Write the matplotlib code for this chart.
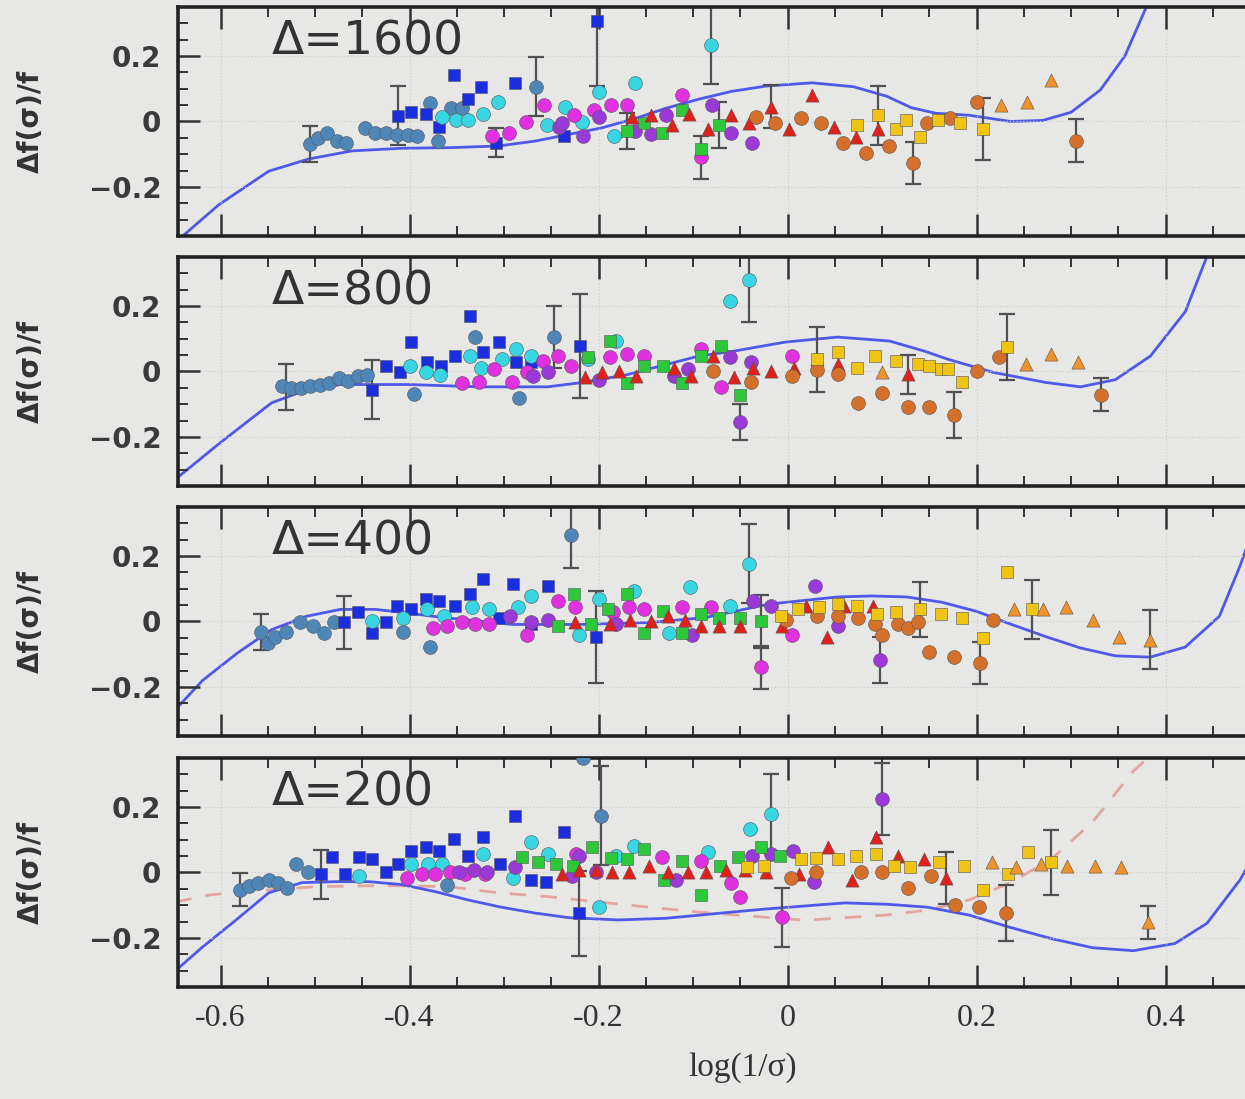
import matplotlib as mpl
mpl.use('Agg')
import matplotlib.pyplot as plt
from matplotlib.ticker import MultipleLocator

mpl.rcParams.update({'font.family': 'DejaVu Sans'})

# ---------- data: (x, y) per series, per panel ----------
P1600_STEEL = [(-0.505,-0.07),(-0.497,-0.05),(-0.487,-0.035),(-0.477,-0.06),(-0.467,-0.065),(-0.447,-0.02),
               (-0.437,-0.035),(-0.425,-0.035),(-0.413,-0.04),(-0.402,-0.04),(-0.392,-0.045),(-0.37,-0.06),
               (-0.378,0.055),(-0.356,0.04),(-0.345,0.04),(-0.266,0.106)]
P1600_BLUE = [(-0.412,0.018),(-0.398,0.028),(-0.383,0.024),(-0.369,-0.018),(-0.353,0.143),(-0.338,0.07),
              (-0.324,0.105),(-0.308,-0.065),(-0.288,0.117),(-0.237,-0.043),(-0.202,0.307)]
P1600_CYAN = [(-0.366,0.013),(-0.351,0.003),(-0.338,0.003),(-0.322,0.024),(-0.306,0.06),(-0.255,-0.012),
              (-0.235,0.045),(-0.218,-0.002),(-0.2,0.09),(-0.184,-0.043),(-0.161,0.117),(-0.081,0.235)]
P1600_MAG = [(-0.313,-0.043),(-0.295,-0.034),(-0.277,-0.003),(-0.258,0.05),(-0.226,0.02),(-0.205,0.034),
             (-0.187,0.05),(-0.17,0.05),(-0.112,0.08),(-0.092,-0.11)]
P1600_PURP = [(-0.242,-0.018),(-0.239,-0.006),(-0.216,-0.043),(-0.2,0.013),(-0.161,-0.028),(-0.144,-0.037),
              (-0.129,0.019),(-0.08,0.05),(-0.06,-0.034),(-0.038,-0.065)]
P1600_GREEN = [(-0.17,-0.028),(-0.152,-0.006),(-0.133,-0.034),(-0.112,0.034),(-0.092,-0.084),(-0.073,-0.012)]
P1600_RED = [(-0.165,0.013),(-0.144,0.019),(-0.122,-0.012),(-0.104,0.024),(-0.084,-0.022),(-0.06,0.019),
             (-0.041,-0.006),(-0.017,0.045),(0.002,-0.022),(0.026,0.08),(0.049,-0.018),(0.072,-0.049),(0.096,-0.022)]
P1600_ORANGE = [(-0.033,0.013),(-0.013,-0.006),(0.014,0.009),(0.035,-0.006),(0.059,-0.065),(0.083,-0.096),
                (0.107,-0.075),(0.133,-0.127),(0.148,-0.006),(0.172,0.009),(0.2,0.06),(0.305,-0.059)]
P1600_YELLOW = [(0.074,-0.012),(0.096,0.019),(0.115,-0.022),(0.125,0.003),(0.14,-0.049),(0.159,0.003),
                (0.183,-0.006),(0.207,-0.022)]
P1600_TRI = [(0.226,0.05),(0.253,0.06),(0.279,0.127)]
P1600_ERR = [(-0.505,-0.07,0.055),(-0.412,0.018,0.09),(-0.308,-0.065,0.045),(-0.266,0.106,0.09),
             (-0.202,0.307,0.2),(-0.17,-0.028,0.055),(-0.092,-0.11,0.065),(-0.081,0.235,0.12),
             (-0.073,-0.012,0.07),(-0.017,0.045,0.065),(0.096,0.019,0.09),(0.133,-0.127,0.065),
             (0.207,-0.022,0.095),(0.305,-0.059,0.065)]
P1600_CURVE = [(-0.648,-0.37),(-0.602,-0.255),(-0.549,-0.152),(-0.507,-0.115),(-0.461,-0.09),(-0.408,-0.082),
               (-0.356,-0.08),(-0.306,-0.075),(-0.267,-0.06),(-0.232,-0.04),(-0.197,-0.02),(-0.16,0.01),
               (-0.129,0.04),(-0.094,0.068),(-0.059,0.092),(-0.023,0.108),(0.026,0.118),(0.07,0.106),
               (0.105,0.077),(0.131,0.042),(0.157,0.025),(0.192,0.019),(0.236,0.0),(0.27,0.003),(0.3,0.028),
               (0.331,0.096),(0.357,0.2),(0.379,0.345),(0.385,0.4)]

P800_STEEL = [(-0.535,-0.045),(-0.525,-0.05),(-0.515,-0.05),(-0.505,-0.045),(-0.495,-0.04),(-0.485,-0.035),
              (-0.475,-0.02),(-0.465,-0.03),(-0.455,-0.015),(-0.445,-0.01),(-0.395,-0.07),(-0.331,0.105),
              (-0.284,-0.08),(-0.247,0.105)]
P800_BLUE = [(-0.44,-0.056),(-0.425,0.016),(-0.41,-0.003),(-0.398,0.09),(-0.382,0.028),(-0.367,0.016),
             (-0.352,0.047),(-0.336,0.168),(-0.322,0.059),(-0.305,0.09),(-0.287,0.028),(-0.271,0.028),(-0.22,0.078)]
P800_CYAN = [(-0.4,0.016),(-0.383,-0.003),(-0.368,-0.012),(-0.336,0.047),(-0.324,0.012),(-0.302,0.037),
             (-0.287,0.068),(-0.271,0.047),(-0.211,0.037),(-0.181,0.093),(-0.061,0.214),(-0.041,0.28)]
P800_MAG = [(-0.344,-0.034),(-0.327,-0.031),(-0.311,0.006),(-0.292,-0.031),(-0.276,-0.003),(-0.259,0.031),
            (-0.243,0.047),(-0.229,0.016),(-0.188,0.043),(-0.17,0.053),(-0.152,0.047),(-0.092,0.068),
            (-0.07,-0.049),(0.005,0.047)]
P800_PURP = [(-0.269,-0.015),(-0.253,-0.003),(-0.2,-0.025),(-0.12,-0.015),(-0.105,0.006),(-0.061,0.043),
             (-0.039,0.028),(-0.05,-0.155)]
P800_GREEN = [(-0.211,0.043),(-0.188,0.093),(-0.17,-0.034),(-0.152,0.016),(-0.132,0.016),(-0.112,-0.034),
              (-0.092,0.047),(-0.07,0.078),(-0.05,-0.071)]
P800_RED = [(-0.214,-0.018),(-0.196,-0.003),(-0.178,0.0),(-0.16,-0.015),(-0.12,0.012),(-0.102,-0.015),
            (-0.079,0.047),(-0.057,-0.018),(-0.037,0.012),(-0.017,0.0),(0.007,0.012),(0.031,0.037),
            (0.053,0.022),(0.127,-0.009)]
P800_ORANGE = [(-0.079,0.0),(-0.039,-0.031),(0.005,-0.015),(0.031,0.005),(0.053,-0.009),(0.075,-0.096),
               (0.1,-0.065),(0.127,-0.109),(0.15,-0.109),(0.176,-0.134),(0.2,0.0),(0.224,0.043),(0.332,-0.071)]
P800_YELLOW = [(0.031,0.037),(0.053,0.059),(0.073,0.012),(0.093,0.047),(0.115,0.031),(0.138,0.022),
               (0.15,0.016),(0.162,0.006),(0.17,0.006),(0.185,-0.031),(0.232,0.075)]
P800_TRI = [(0.1,-0.003),(0.252,0.022),(0.279,0.053),(0.307,0.028)]
P800_ERR = [(-0.531,-0.047,0.07),(-0.44,-0.056,0.09),(-0.247,0.105,0.095),(-0.22,0.078,0.16),
            (-0.041,0.28,0.13),(-0.05,-0.155,0.055),(0.031,0.037,0.1),(0.127,-0.009,0.06),
            (0.176,-0.134,0.07),(0.232,0.075,0.1),(0.332,-0.071,0.05)]
P800_CURVE = [(-0.648,-0.33),(-0.6,-0.217),(-0.546,-0.096),(-0.509,-0.056),(-0.473,-0.04),(-0.4,-0.04),
              (-0.327,-0.047),(-0.254,-0.047),(-0.218,-0.034),(-0.17,-0.01),(-0.13,0.02),(-0.094,0.047),
              (-0.057,0.062),(-0.002,0.09),(0.053,0.105),(0.108,0.093),(0.145,0.062),(0.17,0.037),
              (0.218,-0.003),(0.274,-0.034),(0.31,-0.047),(0.347,-0.025),(0.384,0.047),(0.421,0.183),
              (0.442,0.338),(0.45,0.4)]

P400_STEEL = [(-0.557,-0.031),(-0.55,-0.065),(-0.542,-0.047),(-0.531,-0.031),(-0.516,-0.003),(-0.502,-0.015),
              (-0.491,-0.034),(-0.48,-0.003),(-0.407,-0.031),(-0.378,-0.078),(-0.229,0.264)]
P400_BLUE = [(-0.469,-0.003),(-0.455,0.028),(-0.44,-0.034),(-0.425,-0.003),(-0.413,0.047),(-0.398,0.037),
             (-0.383,0.068),(-0.369,0.062),(-0.352,0.047),(-0.336,0.084),(-0.322,0.13),(-0.305,0.012),
             (-0.291,0.115),(-0.272,-0.009),(-0.254,0.109),(-0.203,-0.047)]
P400_CYAN = [(-0.44,0.0),(-0.407,0.012),(-0.382,0.037),(-0.364,0.016),(-0.334,0.043),(-0.316,0.037),
             (-0.285,0.043),(-0.271,0.078),(-0.221,-0.04),(-0.2,0.068),(-0.163,0.093),(-0.125,-0.034),
             (-0.103,0.105),(-0.061,0.047),(-0.041,0.177)]
P400_MAG = [(-0.375,-0.019),(-0.36,-0.015),(-0.345,-0.003),(-0.331,-0.009),(-0.316,-0.009),(-0.276,-0.04),
            (-0.243,0.062),(-0.225,0.043),(-0.185,0.028),(-0.168,0.043),(-0.152,0.037),(-0.112,0.043),
            (-0.081,0.043),(-0.028,-0.14),(0.005,-0.04)]
P400_PURP = [(-0.294,0.016),(-0.272,-0.003),(-0.254,0.006),(-0.181,-0.009),(-0.101,-0.04),(-0.037,0.062),
             (-0.017,0.047),(0.029,0.109),(0.053,-0.015),(0.098,-0.118)]
P400_GREEN = [(-0.243,-0.015),(-0.226,0.084),(-0.208,-0.009),(-0.19,0.037),(-0.17,0.084),(-0.152,-0.034),
              (-0.132,0.031),(-0.112,-0.034),(-0.092,0.022),(-0.072,0.012),(-0.05,0.012),(-0.028,0.0)]
P400_RED = [(-0.225,-0.003),(-0.188,-0.009),(-0.167,0.006),(-0.145,0.0),(-0.127,0.016),(-0.109,0.006),
            (-0.092,-0.015),(-0.072,-0.015),(-0.05,-0.015),(-0.006,-0.015),(0.02,0.047),(0.042,-0.047),
            (0.06,0.047),(0.09,0.047)]
P400_ORANGE = [(-0.002,0.006),(0.031,0.016),(0.053,0.016),(0.075,0.012),(0.093,-0.009),(0.1,-0.04),
               (0.117,-0.009),(0.127,-0.019),(0.138,-0.003),(0.15,-0.093),(0.176,-0.109),(0.204,-0.127),(0.217,0.006)]
P400_YELLOW = [(-0.007,0.016),(0.011,0.037),(0.033,0.043),(0.053,0.053),(0.073,0.047),(0.095,0.022),
               (0.115,0.028),(0.14,0.037),(0.162,0.022),(0.185,0.012),(0.207,-0.05),(0.232,0.152),(0.259,0.037)]
P400_TRI = [(0.24,0.037),(0.27,0.037),(0.295,0.043),(0.323,0.006),(0.351,-0.047),(0.384,-0.056)]
P400_ERR = [(-0.557,-0.031,0.055),(-0.469,-0.003,0.08),(-0.229,0.264,0.1),(-0.203,-0.047,0.14),
            (-0.041,0.177,0.12),(-0.028,0.0,0.08),(-0.028,-0.14,0.065),(0.098,-0.118,0.07),
            (0.14,0.037,0.085),(0.204,-0.127,0.065),(0.259,0.037,0.09),(0.384,-0.056,0.09)]
P400_CURVE = [(-0.648,-0.27),(-0.619,-0.18),(-0.582,-0.096),(-0.546,-0.025),(-0.509,0.016),(-0.473,0.037),
              (-0.436,0.037),(-0.4,0.025),(-0.364,0.012),(-0.291,-0.009),(-0.218,-0.009),(-0.145,-0.003),
              (-0.087,0.012),(-0.02,0.053),(0.053,0.075),(0.089,0.078),(0.126,0.075),(0.163,0.059),
              (0.2,0.031),(0.237,-0.009),(0.274,-0.047),(0.31,-0.081),(0.347,-0.105),(0.384,-0.109),
              (0.421,-0.078),(0.457,0.016),(0.479,0.171),(0.49,0.26)]

P200_STEEL = [(-0.579,-0.053),(-0.57,-0.04),(-0.56,-0.031),(-0.549,-0.022),(-0.539,-0.031),(-0.53,-0.047),
              (-0.52,0.025),(-0.507,0.0),(-0.36,-0.037),(-0.216,0.351),(-0.197,0.174)]
P200_BLUE = [(-0.494,-0.006),(-0.482,0.047),(-0.468,-0.006),(-0.454,0.047),(-0.44,0.04),(-0.425,0.003),
             (-0.412,0.025),(-0.398,0.065),(-0.383,0.078),(-0.369,0.065),(-0.353,0.102),(-0.338,0.05),
             (-0.322,0.109),(-0.304,0.025),(-0.288,0.174),(-0.271,-0.022),(-0.256,-0.028),(-0.237,0.124),
             (-0.221,-0.124)]
P200_CYAN = [(-0.454,-0.012),(-0.398,0.025),(-0.38,0.025),(-0.366,0.025),(-0.322,0.056),(-0.29,-0.016),
             (-0.271,0.093),(-0.253,0.056),(-0.2,-0.106),(-0.182,0.05),(-0.163,0.081),(-0.084,0.062),
             (-0.04,0.133),(-0.018,0.18)]
P200_MAG = [(-0.403,-0.016),(-0.387,-0.006),(-0.373,-0.006),(-0.357,0.0),(-0.341,-0.006),(-0.32,-0.006),
            (-0.224,0.056),(-0.133,0.047),(-0.092,0.034),(-0.06,-0.031),(-0.05,-0.075),(-0.006,-0.137)]
P200_PURP = [(-0.348,0.0),(-0.332,0.009),(-0.318,0.0),(-0.288,0.016),(-0.228,-0.012),(-0.221,0.05),
             (-0.203,0.003),(-0.118,-0.022),(-0.038,0.05),(-0.017,0.056),(0.006,0.065),(0.028,-0.028),(0.1,0.226)]
P200_GREEN = [(-0.281,0.047),(-0.264,0.031),(-0.245,0.025),(-0.227,0.019),(-0.207,0.078),(-0.187,0.045),
              (-0.17,0.04),(-0.152,0.071),(-0.131,-0.022),(-0.112,0.034),(-0.092,-0.068),(-0.071,0.019),
              (-0.052,0.047),(-0.028,0.078),(-0.008,0.05)]
P200_RED = [(-0.239,-0.006),(-0.221,0.009),(-0.203,0.009),(-0.186,0.003),(-0.168,0.003),(-0.147,0.019),
            (-0.126,0.003),(-0.105,0.0),(-0.086,0.0),(-0.065,0.009),(-0.045,0.009),(-0.023,0.0),
            (0.012,-0.006),(0.043,0.078),(0.068,-0.022),(0.094,0.109),(0.117,0.05),(0.144,0.04),(0.168,-0.016)]
P200_ORANGE = [(0.004,-0.016),(0.03,0.0),(0.078,0.003),(0.1,0.003),(0.127,-0.047),(0.152,-0.012),
               (0.177,-0.099),(0.203,-0.106),(0.231,-0.124)]
P200_YELLOW = [(-0.043,0.016),(-0.025,0.019),(0.014,0.04),(0.03,0.045),(0.053,0.04),(0.072,0.05),
               (0.094,0.056),(0.113,0.019),(0.13,0.016),(0.16,0.031),(0.187,0.019),(0.207,-0.053),
               (0.233,-0.006),(0.255,0.062),(0.279,0.031)]
P200_TRI = [(0.216,0.031),(0.242,0.016),(0.268,0.025),(0.296,0.019),(0.325,0.019),(0.353,0.016),(0.381,-0.152)]
P200_ERR = [(-0.579,-0.053,0.05),(-0.494,-0.006,0.075),(-0.197,0.174,0.15),(-0.221,-0.124,0.13),
            (-0.018,0.18,0.12),(-0.006,-0.137,0.09),(0.1,0.226,0.11),(0.168,-0.016,0.08),
            (0.231,-0.124,0.085),(0.279,0.031,0.1),(0.381,-0.152,0.05)]
P200_CURVE = [(-0.648,-0.301),(-0.62,-0.23),(-0.584,-0.146),(-0.549,-0.062),(-0.514,-0.031),(-0.478,-0.028),
              (-0.443,-0.028),(-0.408,-0.037),(-0.372,-0.059),(-0.338,-0.084),(-0.303,-0.106),(-0.267,-0.124),
              (-0.232,-0.138),(-0.179,-0.145),(-0.129,-0.14),(-0.059,-0.121),(-0.025,-0.112),(0.033,-0.099),
              (0.061,-0.093),(0.105,-0.097),(0.148,-0.106),(0.192,-0.13),(0.236,-0.168),(0.279,-0.202),
              (0.323,-0.23),(0.366,-0.239),(0.41,-0.217),(0.444,-0.155),(0.479,-0.022),(0.495,0.06)]
P200_DASH = [(-0.648,-0.09),(-0.61,-0.068),(-0.549,-0.053),(-0.496,-0.043),(-0.43,-0.04),(-0.359,-0.043),
             (-0.306,-0.062),(-0.253,-0.074),(-0.2,-0.09),(-0.147,-0.106),(-0.094,-0.121),(-0.023,-0.137),
             (0.018,-0.146),(0.105,-0.13),(0.148,-0.115),(0.192,-0.084),(0.236,-0.031),(0.279,0.04),
             (0.323,0.155),(0.366,0.31),(0.385,0.36)]

DELTAS = ['1600', '800', '400', '200']

# marker styles per series: (marker, face colour, size)
STYLES = {
    'STEEL':  ('o', '#4f86b8', 100),
    'BLUE':   ('s', '#1a2ee0', 80),
    'CYAN':   ('o', '#38d6e2', 100),
    'MAG':    ('o', '#e030e0', 100),
    'PURP':   ('o', '#9a38d8', 100),
    'GREEN':  ('s', '#2cc83a', 80),
    'RED':    ('^', '#e0201a', 90),
    'ORANGE': ('o', '#d5702a', 100),
    'YELLOW': ('s', '#f0c412', 80),
    'TRI':    ('^', '#f0922a', 90),
}
ORDER = ['STEEL', 'BLUE', 'CYAN', 'MAG', 'PURP', 'GREEN', 'RED', 'ORANGE', 'YELLOW', 'TRI']

BG = '#e7e7e5'
fig = plt.figure(figsize=(12.45, 10.99), dpi=100, facecolor=BG)

bottoms = [0.7853, 0.5578, 0.3303, 0.1019]
H = 0.2084
XL = (-0.645, 0.55)

for i, d in enumerate(DELTAS):
    ax = fig.add_axes([0.143, bottoms[i], 0.907, H])
    ax.set_facecolor(BG)
    g = globals()
    pre = f'P{d}_'

    ax.grid(True, which='major', color='#cfcfcd', ls=':', lw=0.9, zorder=0)

    cx, cy = zip(*g[pre + 'CURVE'])
    ax.plot(cx, cy, color='#5058ea', lw=2.0, zorder=1.5)
    if pre + 'DASH' in g:
        dx, dy = zip(*g[pre + 'DASH'])
        ax.plot(dx, dy, color='#e39a94', lw=2.0, ls=(0, (6, 5)), alpha=0.85, zorder=1.4)

    ex, ey, ee = zip(*g[pre + 'ERR'])
    ax.errorbar(ex, ey, yerr=ee, fmt='none', ecolor='#505052', elinewidth=1.6,
                capsize=6, capthick=1.6, zorder=2)

    for k in ORDER:
        m, c, s = STYLES[k]
        px, py = zip(*g[pre + k])
        ax.scatter(px, py, marker=m, s=s, c=c, edgecolors='#55555a', linewidths=0.4, zorder=3)

    ax.set_xlim(XL)
    ax.set_ylim(-0.35, 0.35)
    ax.xaxis.set_major_locator(MultipleLocator(0.2))
    ax.xaxis.set_minor_locator(MultipleLocator(0.05))
    ax.set_yticks([-0.2, 0, 0.2])
    ax.yaxis.set_minor_locator(MultipleLocator(0.05))
    ax.set_yticklabels(['\u22120.2', '0', '0.2'], fontsize=20, fontweight='bold', color='#3a3a3a')
    ax.tick_params(which='both', direction='in', top=True, right=True, color='#333333')
    ax.tick_params(which='major', length=16, width=1.8, pad=12)
    ax.tick_params(which='minor', length=7, width=1.4)
    for sp in ax.spines.values():
        sp.set_linewidth(2.6)
        sp.set_color('#222222')

    ax.set_ylabel('\u0394f(\u03c3)/f', fontsize=20, fontweight='bold', color='#333333')
    ax.yaxis.set_label_coords(-0.118, 0.5)
    ax.text(0.083, 0.845, f'\u0394={d}', transform=ax.transAxes, fontsize=34,
            color='#333333', va='center', ha='left', zorder=5)

    if i < 3:
        ax.set_xticklabels([])
    else:
        ax.set_xticks([-0.6, -0.4, -0.2, 0, 0.2, 0.4])
        ax.set_xticklabels(['-0.6', '-0.4', '-0.2', '0', '0.2', '0.4'],
                           fontsize=23, family='Liberation Serif', color='#333333')
        ax.set_xlabel('log(1/\u03c3)', fontsize=24, family='Liberation Serif',
                      color='#333333', labelpad=14)

fig.savefig('out.png', dpi=100, facecolor=BG)
